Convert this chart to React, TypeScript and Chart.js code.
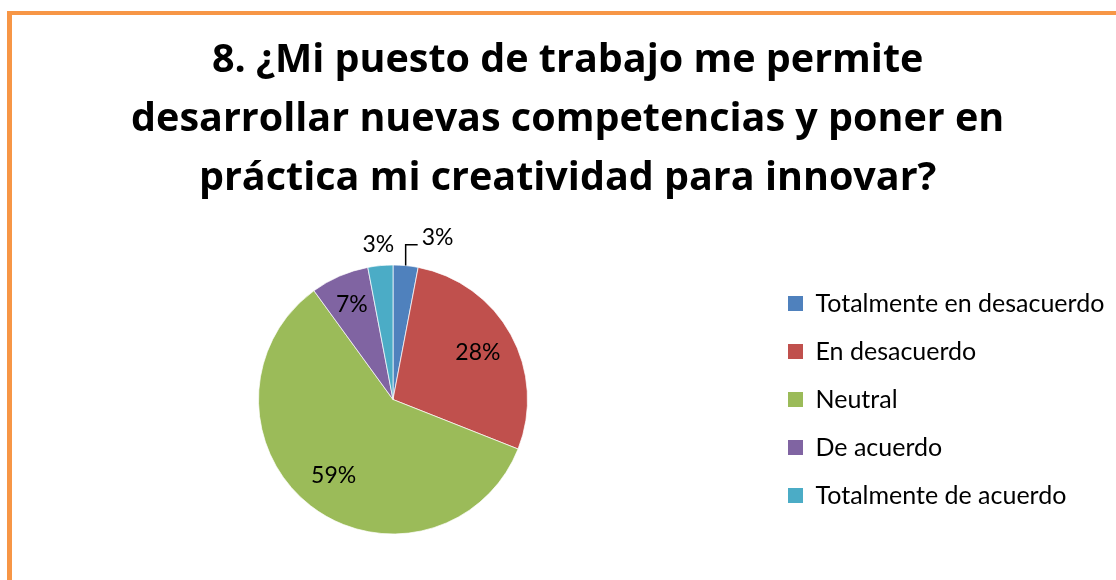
import React, { useEffect, useRef } from "react";
import { Chart, registerables } from "chart.js";

Chart.register(...registerables);

const TITLE_LINES = [
  "8. ¿Mi puesto de trabajo me permite",
  "desarrollar nuevas competencias y poner en",
  "práctica mi creatividad para innovar?",
];
const CATEGORIES = [
  "Totalmente en desacuerdo",
  "En desacuerdo",
  "Neutral",
  "De acuerdo",
  "Totalmente de acuerdo",
];
const VALUES = [3, 28, 59, 7, 3];
const COLORS = ["#4F81BD", "#C0504D", "#9BBB59", "#8064A2", "#4BACC6"];

const FONT = "Lato";
const TITLE_FONT = "'Open Sans'";
const TITLE_SIZE = 39.5;
const TITLE_LINE_H = 59;
const LABEL_SIZE = 23;
const LEGEND_SIZE = 25;
const LEGEND_PAD = 23;
const CANVAS_W = 1140;
const CANVAS_H = 580;

const pieLabels = {
  id: "pieLabels",
  afterDatasetsDraw(chart: any) {
    const ctx = chart.ctx as CanvasRenderingContext2D;
    const meta = chart.getDatasetMeta(0);
    const data = chart.data.datasets[0].data as number[];
    const total = data.reduce((a, b) => a + b, 0);
    ctx.save();
    ctx.font = `${LABEL_SIZE}px ${FONT}`;
    ctx.fillStyle = "#000";
    ctx.strokeStyle = "#000";
    ctx.textBaseline = "middle";
    const placed: { l: number; r: number; t: number; b: number }[] = [];
    for (let i = meta.data.length - 1; i >= 0; i--) {
      const arc = meta.data[i];
      const p = arc.getProps(["x", "y", "startAngle", "endAngle", "outerRadius"], true);
      const mid = (p.startAngle + p.endAngle) / 2;
      const pct = Math.round((data[i] / total) * 100);
      const text = pct + "%";
      const w = ctx.measureText(text).width;
      if (pct >= 5) {
        const r = p.outerRadius * (pct < 10 ? 0.77 : 0.72);
        ctx.textAlign = "center";
        ctx.fillText(text, p.x + Math.cos(mid) * r, p.y + Math.sin(mid) * r);
        continue;
      }
      const r = p.outerRadius + 21;
      const lx = p.x + Math.cos(mid) * r;
      const ly = p.y + Math.sin(mid) * r;
      const box = { l: lx - w / 2, r: lx + w / 2, t: ly - LABEL_SIZE / 2, b: ly + LABEL_SIZE / 2 };
      const hit = placed.some((q) => !(box.r < q.l || box.l > q.r || box.b < q.t || box.t > q.b));
      if (!hit) {
        ctx.textAlign = "center";
        ctx.fillText(text, lx, ly);
        placed.push(box);
      } else {
        const ax = p.x + Math.cos(mid) * p.outerRadius;
        const ay = p.y + Math.sin(mid) * p.outerRadius;
        ctx.lineWidth = 1.5;
        ctx.beginPath();
        ctx.moveTo(ax, ay);
        ctx.lineTo(ax, ly);
        ctx.lineTo(ax + 12, ly);
        ctx.stroke();
        ctx.textAlign = "left";
        ctx.fillText(text, ax + 16, ly - 7);
        placed.push({ l: ax + 16, r: ax + 16 + w, t: ly - 7 - LABEL_SIZE / 2, b: ly - 7 + LABEL_SIZE / 2 });
      }
    }
    ctx.restore();
  },
};

export default function App() {
  const canvasRef = useRef<HTMLCanvasElement | null>(null);

  useEffect(() => {
    const canvas = canvasRef.current;
    if (!canvas) return;
    const m = document.createElement("canvas").getContext("2d")!;
    m.font = `${LEGEND_SIZE}px ${FONT}`;
    const tw = Math.max(...CATEGORIES.map((c) => m.measureText(c).width));
    const legendLeft = 765;
    const legendW = LEGEND_PAD + 15 + LEGEND_SIZE / 2 + tw + 10;
    const padRight = CANVAS_W - legendLeft - legendW;

    const defaultGen = (Chart as any).overrides.doughnut.plugins.legend.labels.generateLabels;

    const padTop = 60.7 - TITLE_LINE_H / 2;
    const padBottom = 264.5 - padTop - 3 * TITLE_LINE_H;

    const chart = new Chart(canvas, {
      type: "pie",
      data: {
        labels: CATEGORIES,
        datasets: [
          {
            data: VALUES,
            backgroundColor: COLORS,
            borderColor: "rgba(255,255,255,0.7)",
            borderWidth: 1,
          },
        ],
      },
      options: {
        responsive: false,
        animation: false,
        rotation: 0,
        layout: { padding: { left: 21, right: padRight, top: 0, bottom: 45.5 } },
        plugins: {
          title: {
            display: true,
            text: TITLE_LINES,
            color: "#000",
            font: { family: TITLE_FONT, size: TITLE_SIZE, weight: "bold", lineHeight: TITLE_LINE_H / TITLE_SIZE },
            padding: { top: padTop, bottom: padBottom },
          },
          legend: {
            display: true,
            position: "right",
            align: "center",
            fullSize: false,
            labels: {
              boxWidth: 15,
              boxHeight: 15,
              padding: LEGEND_PAD,
              color: "#000",
              font: { family: FONT, size: LEGEND_SIZE },
              generateLabels: (c: any) =>
                defaultGen(c).map((l: any) => ({ ...l, lineWidth: 0 })),
            },
          },
          tooltip: { enabled: false },
        },
      },
      plugins: [pieLabels],
    });
    return () => chart.destroy();
  }, []);

  return (
    <div
      style={{
        position: "fixed",
        left: 0,
        top: 0,
        width: 1116,
        height: 580,
        overflow: "hidden",
        background: "#fff",
      }}
    >
      <div
        style={{
          position: "absolute",
          left: 7,
          top: 11,
          width: 1200,
          height: 700,
          borderLeft: "5px solid #F79646",
          borderTop: "4px solid #F79646",
          boxSizing: "border-box",
        }}
      />
      <canvas
        ref={canvasRef}
        width={CANVAS_W}
        height={CANVAS_H}
        style={{ position: "absolute", left: 0, top: 0, width: CANVAS_W, height: CANVAS_H }}
      />
    </div>
  );
}
